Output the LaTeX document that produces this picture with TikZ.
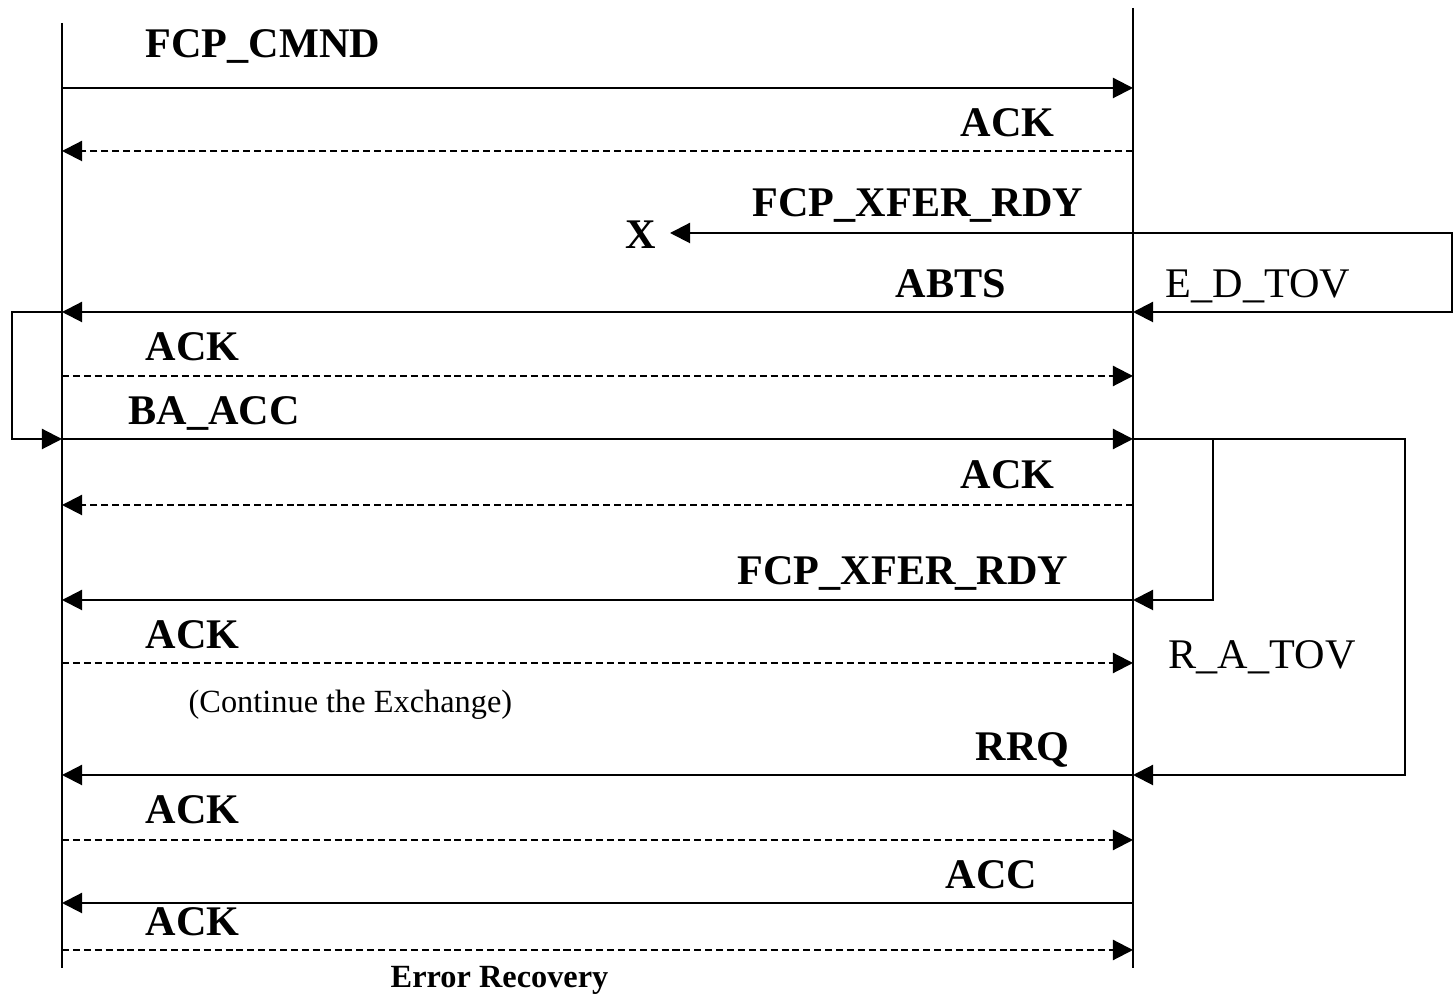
\documentclass[tikz,border=0pt]{standalone}
\usepackage{fontspec}
\setmainfont{Liberation Serif}
\usetikzlibrary{arrows.meta}
\tikzset{
  msg/.style={line width=0.6pt,-{Triangle[length=0.2cm,width=0.2cm]}},
  ackmsg/.style={msg,dash pattern=on 2pt off 1.1pt},
  lbl/.style={anchor=base west,inner sep=0pt,font=\fontsize{12}{14}\selectfont\bfseries},
  tov/.style={anchor=base west,inner sep=0pt,font=\fontsize{12}{14}\selectfont},
  note/.style={anchor=base west,inner sep=0pt,font=\fontsize{9.2}{11}\selectfont}
}
\begin{document}
\begin{tikzpicture}[x=0.01cm,y=-0.01cm]
	\useasboundingbox (0,0) rectangle (1454,995);
	% lifelines
	\draw[line width=0.6pt] (62,23) -- (62,968);
	\draw[line width=0.6pt] (1133,8) -- (1133,968);
	\foreach \n/\y in {1/88,2/151,3/233,4/312,5/376,6/439,7/505,8/600,9/663,10/775,11/840,12/903,13/950}{
		\coordinate (L\n) at (62,\y);
		\coordinate (R\n) at (1133,\y);
	}
	% command
	\draw[msg] (L1) -- (R1);
	\node[lbl] (cmnd) at (145,58) {FCP\_CMND};
	\draw[ackmsg] (R2) -- (L2);
	\node[lbl] (ack1) at (960,137) {ACK};
	% lost frame
	\node[lbl] (drop) at (625,249) {X};
	\coordinate (lost) at (670,233);
	\draw[msg] (R3) -- (lost);
	\node[lbl] (xfer1) at (752,217) {FCP\_XFER\_RDY};
	% abort
	\draw[msg] (R3) -- (1452,233) |- (R4);
	\node[tov] (edtov) at (1165,298) {E\_D\_TOV};
	\draw[msg] (R4) -- (L4);
	\node[lbl] (abts) at (895,298) {ABTS};
	\draw[ackmsg] (L5) -- (R5);
	\node[lbl] (ack2) at (145,361) {ACK};
	\draw[msg] (L4) -- (12,312) |- (L6);
	\draw[msg] (L6) -- (R6);
	\node[lbl] (baacc) at (128,425) {BA\_ACC};
	\draw[ackmsg] (R7) -- (L7);
	\node[lbl] (ack3) at (960,489) {ACK};
	% retransmit
	\draw[msg] (R6) -- (1213,439) |- (R8);
	\draw[msg] (R8) -- (L8);
	\node[lbl] (xfer2) at (737,585) {FCP\_XFER\_RDY};
	\draw[ackmsg] (L9) -- (R9);
	\node[lbl] (ack4) at (145,649) {ACK};
	\node[note] (cont) at (188,713) {(Continue the Exchange)};
	% recovery qualifier
	\draw[msg] (1213,439) -- (1405,439) |- (R10);
	\node[tov] (ratov) at (1168,669) {R\_A\_TOV};
	\draw[msg] (R10) -- (L10);
	\node[lbl] (rrq) at (975,761) {RRQ};
	\draw[ackmsg] (L11) -- (R11);
	\node[lbl] (ack5) at (145,824) {ACK};
	\draw[msg] (R12) -- (L12);
	\node[lbl] (acc) at (945,889) {ACC};
	\draw[ackmsg] (L13) -- (R13);
	\node[lbl] (ack6) at (145,936) {ACK};
	\node[note,font=\fontsize{9.2}{11}\selectfont\bfseries] (title) at (390,988) {Error Recovery};
\end{tikzpicture}
\end{document}
